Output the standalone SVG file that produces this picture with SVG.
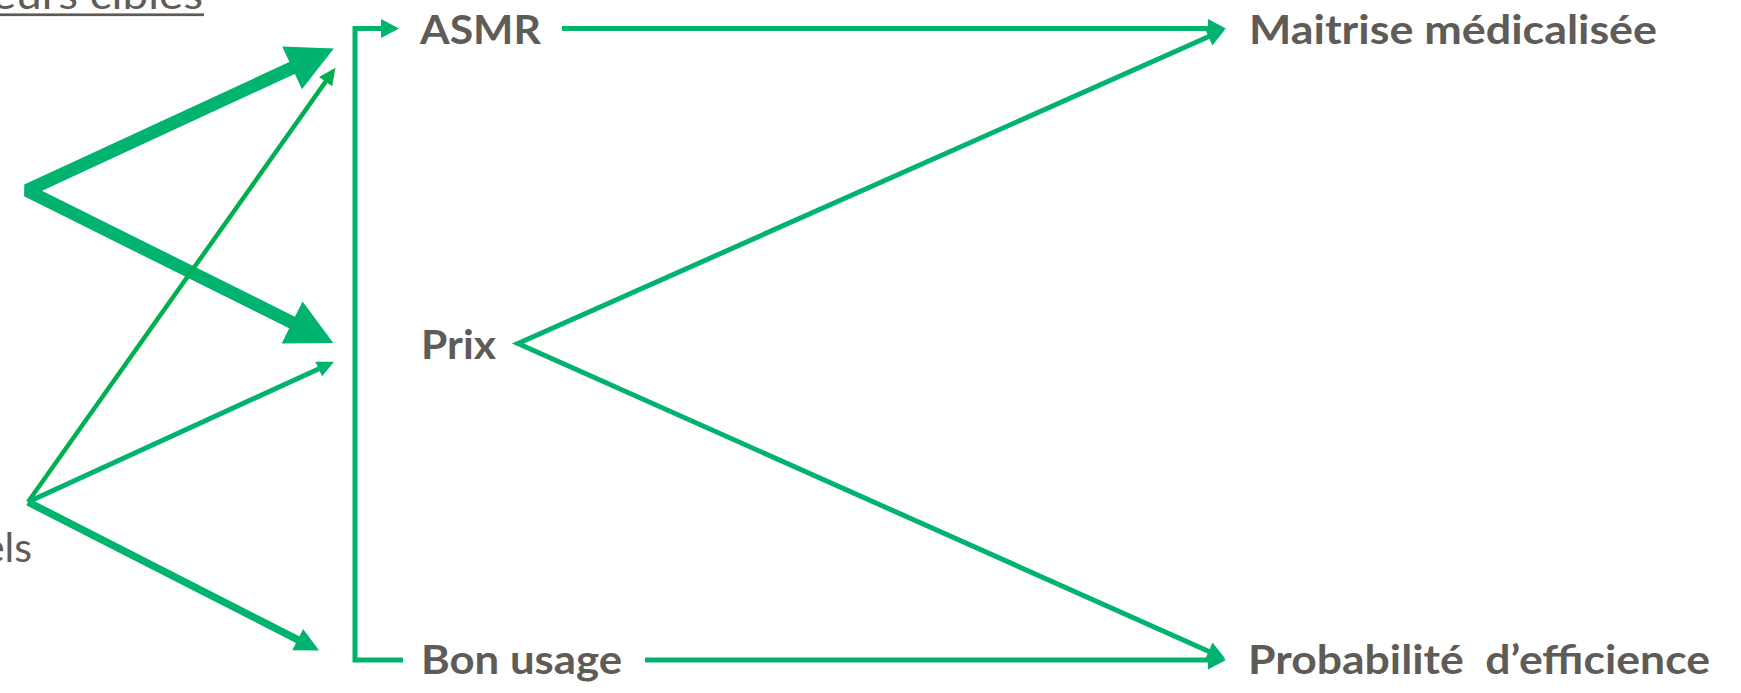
<svg xmlns="http://www.w3.org/2000/svg" width="1741" height="693" viewBox="0 0 1741 693">
  <style>
    .lbl { font-family: Lato, "Liberation Sans", sans-serif; font-weight: 700; font-size: 41px; fill: #5f5b57; }
    .reg { font-family: Lato, "Liberation Sans", sans-serif; font-weight: 400; font-size: 41px; fill: #5f5b57; }
    .c { fill: none; stroke: #00b36f; stroke-linecap: butt; }
    .c2 { fill: none; stroke: #00af50; stroke-linecap: butt; }
  </style>
  <defs>
    <marker id="mThick" markerUnits="userSpaceOnUse" markerWidth="46" markerHeight="47" refX="1" refY="23.5" orient="auto-start-reverse" overflow="visible">
      <path d="M0,0 L46,23.5 L0,47 z" fill="#00b36f"/>
    </marker>
    <marker id="mMed" markerUnits="userSpaceOnUse" markerWidth="18" markerHeight="19" refX="1" refY="9.5" orient="auto-start-reverse" overflow="visible">
      <path d="M0,0 L18,9.5 L0,19 z" fill="#00b36f"/>
    </marker>
    <marker id="mSmall" markerUnits="userSpaceOnUse" markerWidth="17" markerHeight="16" refX="1" refY="8" orient="auto" overflow="visible">
      <path d="M0,0 L17,8 L0,16 z" fill="#00b36f"/>
    </marker>
    <marker id="mSmallB" markerUnits="userSpaceOnUse" markerWidth="17" markerHeight="16" refX="1" refY="8" orient="auto" overflow="visible">
      <path d="M0,0 L17,8 L0,16 z" fill="#00af50"/>
    </marker>
    <marker id="mBot" markerUnits="userSpaceOnUse" markerWidth="24" markerHeight="24" refX="1" refY="12" orient="auto" overflow="visible">
      <path d="M0,0 L24,12 L0,24 z" fill="#00b36f"/>
    </marker>
  </defs>

  <g id="n-title">
    <text class="reg" x="-8" y="9" textLength="211" lengthAdjust="spacingAndGlyphs">eurs cibles</text>
    <rect x="0" y="13.4" width="204" height="2.7" fill="#5f5b57"/>
  </g>
  <g id="n-els">
    <text class="reg" x="32" y="562" text-anchor="end">els</text>
  </g>
  <g id="n-asmr">
    <text class="lbl" x="420" y="43.5" textLength="121" lengthAdjust="spacingAndGlyphs">ASMR</text>
  </g>
  <g id="n-prix">
    <text class="lbl" x="421" y="359" textLength="75" lengthAdjust="spacingAndGlyphs">Prix</text>
  </g>
  <g id="n-bon">
    <text class="lbl" x="421" y="673.5" textLength="201" lengthAdjust="spacingAndGlyphs">Bon usage</text>
  </g>
  <g id="n-maitrise">
    <text class="lbl" x="1249" y="43.5" textLength="408" lengthAdjust="spacingAndGlyphs">Maitrise médicalisée</text>
  </g>
  <g id="n-proba">
    <text class="lbl" x="1248" y="673.5" textLength="462" lengthAdjust="spacingAndGlyphs" xml:space="preserve">Probabilité  d’efficience</text>
  </g>

  <g id="connectors">
    <path class="c" d="M293,67.5 L27,190.5 L293,323" stroke-width="13" stroke-linejoin="bevel" marker-start="url(#mThick)" marker-end="url(#mThick)"/>
    <path class="c2" d="M28,502 L326.2,80.9" stroke-width="4.5" marker-end="url(#mSmallB)"/>
    <path class="c" d="M28,502 L319.6,368.5" stroke-width="5" marker-end="url(#mSmall)"/>
    <path class="c" d="M28,502 L298.6,640.1" stroke-width="7.5" marker-end="url(#mBot)"/>
    <path class="c" d="M403,660 L355,660 L355,28.5 L382,28.5" stroke-width="5" stroke-linejoin="miter" marker-end="url(#mMed)"/>
    <path class="c" d="M562,28.5 L1209,28.5" stroke-width="5" marker-end="url(#mMed)"/>
    <path class="c" d="M645,660 L1209,660" stroke-width="5" marker-end="url(#mMed)"/>
    <path class="c" d="M1209.5,36.3 L518,343.5 L1209.6,651.7" stroke-width="5" stroke-linejoin="miter" marker-start="url(#mMed)" marker-end="url(#mMed)"/>
  </g>
</svg>
